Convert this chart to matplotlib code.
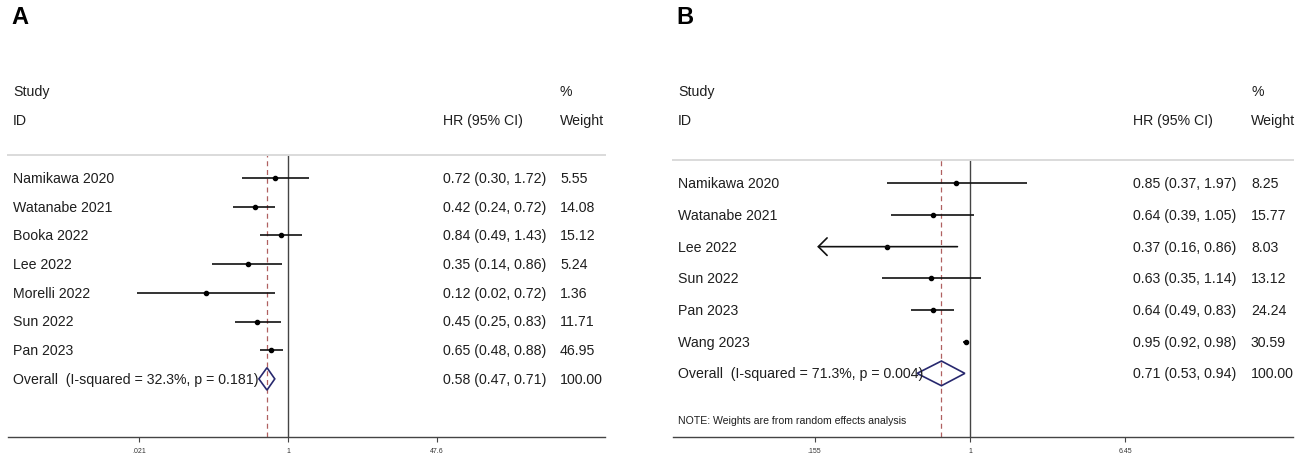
import numpy as np
import matplotlib.pyplot as plt
from matplotlib.patches import Polygon
from matplotlib.ticker import NullLocator
from matplotlib.transforms import blended_transform_factory

plt.rcParams['font.family'] = ['Liberation Sans', 'DejaVu Sans']

# ---- panel A data
a_studies = ['Namikawa 2020', 'Watanabe 2021', 'Booka 2022', 'Lee 2022',
             'Morelli 2022', 'Sun 2022', 'Pan 2023']
a_hr = [0.72, 0.42, 0.84, 0.35, 0.12, 0.45, 0.65]
a_lo = [0.30, 0.24, 0.49, 0.14, 0.02, 0.25, 0.48]
a_hi = [1.72, 0.72, 1.43, 0.86, 0.72, 0.83, 0.88]
a_weight = ['5.55', '14.08', '15.12', '5.24', '1.36', '11.71', '46.95']
a_overall = [0.58, 0.47, 0.71]
a_overall_label = 'Overall  (I-squared = 32.3%, p = 0.181)'
a_ticks = [0.021, 1, 47.6]
a_ticklabels = ['.021', '1', '47.6']

# ---- panel B data
b_studies = ['Namikawa 2020', 'Watanabe 2021', 'Lee 2022', 'Sun 2022',
             'Pan 2023', 'Wang 2023']
b_hr = [0.85, 0.64, 0.37, 0.63, 0.64, 0.95]
b_lo = [0.37, 0.39, 0.16, 0.35, 0.49, 0.92]
b_hi = [1.97, 1.05, 0.86, 1.14, 0.83, 0.98]
b_weight = ['8.25', '15.77', '8.03', '13.12', '24.24', '30.59']
b_overall = [0.71, 0.53, 0.94]
b_overall_label = 'Overall  (I-squared = 71.3%, p = 0.004)'
b_ticks = [0.155, 1, 6.45]
b_ticklabels = ['.155', '1', '6.45']
b_arrow = [False, False, True, False, False, False]

W, H = 1299, 460
fig = plt.figure(figsize=(W / 100, H / 100), dpi=100)

TXT = '#1e1e1e'
FS = 10.2


def forest(studies, hr, lo, hi, weight, overall, overall_label, ticks, ticklabels,
           left, right, top, bottom, one_px, px_per_ln, first_row, gap,
           col_hr, col_w, letter, arrows=None, note=None):
    ax = fig.add_axes([left / W, 1 - bottom / H, (right - left) / W, (bottom - top) / H])
    ax.set_xscale('log')
    ax.set_xlim(np.exp((left - one_px) / px_per_ln), np.exp((right - one_px) / px_per_ln))
    ax.set_ylim((bottom - first_row) / gap, (top - first_row) / gap)

    for s in ['left', 'right']:
        ax.spines[s].set_visible(False)
    ax.spines['top'].set_color('#dadada')
    ax.spines['top'].set_linewidth(1.4)
    ax.spines['bottom'].set_color('#444444')
    ax.spines['bottom'].set_linewidth(1.0)
    ax.set_yticks([])
    ax.set_xticks(ticks, ticklabels)
    ax.xaxis.set_minor_locator(NullLocator())
    ax.tick_params(axis='x', labelsize=5, length=3.5, width=0.8, color='#444444',
                   labelcolor='#333333', pad=4)

    ax.axvline(1, color='#444444', lw=1.0, zorder=1)
    ax.axvline(overall[0], color='#b06060', lw=0.9, ls=(0, (4, 3)), zorder=1)

    tr = blended_transform_factory(fig.transFigure, ax.transData)
    name_x = (left + 5) / W
    rows = np.arange(len(studies))
    for i in rows:
        if arrows is not None and arrows[i]:
            ax.annotate('', xy=(lo[i], i), xytext=(hi[i], i),
                        arrowprops=dict(arrowstyle='->,head_length=0.45,head_width=0.45',
                                        lw=1.2, color='#111111', mutation_scale=14,
                                        shrinkA=0, shrinkB=0))
        else:
            ax.plot([lo[i], hi[i]], [i, i], color='#111111', lw=1.2, solid_capstyle='butt')
        ax.plot(hr[i], i, 'o', color='black', ms=3.0)
        ax.text(name_x, i, studies[i], transform=tr,
                fontsize=FS, color=TXT, va='center', ha='left')
        ax.text(col_hr / W, i, f'{hr[i]:.2f} ({lo[i]:.2f}, {hi[i]:.2f})', transform=tr,
                fontsize=FS, color=TXT, va='center', ha='left')
        ax.text(col_w / W, i, weight[i], transform=tr,
                fontsize=FS, color=TXT, va='center', ha='left')

    k = len(studies)
    est, olo, ohi = overall
    diamond = Polygon([[olo, k], [est, k - 0.39], [ohi, k], [est, k + 0.39]],
                      closed=True, fill=False, edgecolor='#27286e', lw=1.2, zorder=3)
    ax.add_patch(diamond)
    ax.text(name_x, k, overall_label, transform=tr,
            fontsize=FS, color=TXT, va='center', ha='left', zorder=4)
    ax.text(col_hr / W, k, f'{est:.2f} ({olo:.2f}, {ohi:.2f})', transform=tr,
            fontsize=FS, color=TXT, va='center', ha='left')
    ax.text(col_w / W, k, '100.00', transform=tr,
            fontsize=FS, color=TXT, va='center', ha='left')

    if note is not None:
        ax.text(name_x, note[1], note[0], transform=tr,
                fontsize=7.6, color=TXT, va='center', ha='left')

    fig.text(name_x, 1 - 92 / H, 'Study', fontsize=FS, color=TXT, va='center')
    fig.text(name_x, 1 - 121 / H, 'ID', fontsize=FS, color=TXT, va='center')
    fig.text(col_hr / W, 1 - 121 / H, 'HR (95% CI)', fontsize=FS, color=TXT, va='center')
    fig.text(col_w / W, 1 - 92 / H, '%', fontsize=FS, color=TXT, va='center')
    fig.text(col_w / W, 1 - 121 / H, 'Weight', fontsize=FS, color=TXT, va='center')
    fig.text((left + 3) / W, 1 - 17 / H, letter, fontsize=17, fontweight='bold',
             color='black', va='center')
    return ax


forest(a_studies, a_hr, a_lo, a_hi, a_weight, a_overall, a_overall_label,
       a_ticks, a_ticklabels,
       left=8, right=605, top=156, bottom=438, one_px=288, px_per_ln=38.57,
       first_row=179, gap=28.7, col_hr=443, col_w=560, letter='A')

forest(b_studies, b_hr, b_lo, b_hi, b_weight, b_overall, b_overall_label,
       b_ticks, b_ticklabels,
       left=673, right=1293, top=160.7, bottom=438, one_px=970, px_per_ln=83.4,
       first_row=184.3, gap=31.68, col_hr=1133, col_w=1251, letter='B',
       arrows=b_arrow, note=('NOTE: Weights are from random effects analysis', 7.47))

fig.savefig('out.png', dpi=100, facecolor='white')
